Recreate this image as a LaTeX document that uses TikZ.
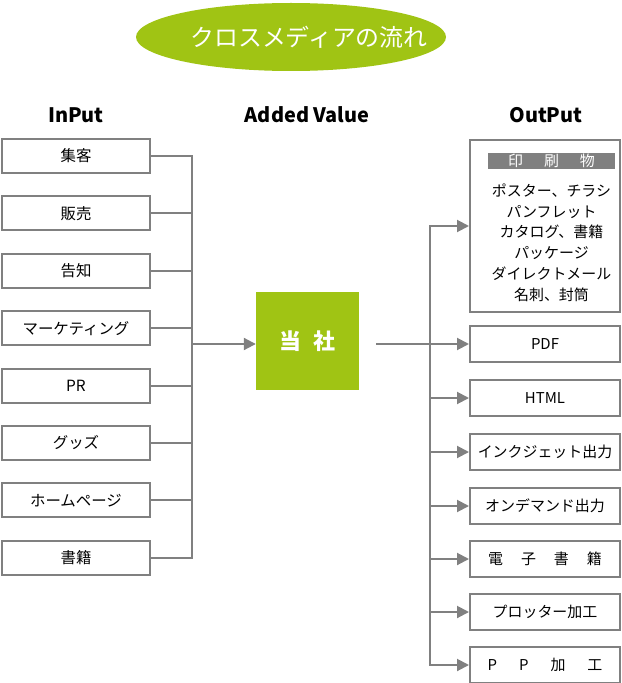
\documentclass[tikz,border=0pt]{standalone}
\usepackage{fontspec}
\setmainfont{Noto Sans CJK JP}
\usetikzlibrary{arrows.meta, shapes.geometric, positioning}
\definecolor{Leaf}  {HTML}{A0C414}
\definecolor{Frame} {HTML}{808080}

\tikzset{
  inbox/.style={draw=Frame, line width=2bp, fill=white, inner sep=0pt,
                minimum width=148bp, minimum height=34bp,
                font=\fontsize{15.5}{18}\selectfont},
  outbox/.style={inbox, minimum width=150bp, minimum height=36bp,
                 font=\fontsize{15}{18}\selectfont},
  colhead/.style={font=\fontsize{20}{24}\selectfont\bfseries},
  link/.style={draw=Frame, line width=2bp, line cap=rect},
  feed/.style={link, -{Triangle[length=12bp, width=12bp]}},
}

\begin{document}
\begin{tikzpicture}[x=1bp, y=-1bp]
  \useasboundingbox (0,0) rectangle (622,683);
  % Title
  \node[ellipse, fill=Leaf, inner sep=0pt, minimum width=310bp,
        minimum height=68bp] (title) at (291,37) {};
  \node[text=white, font=\fontsize{24}{28}\selectfont] (titletext)
        at ([xshift=18bp]title.center) {クロスメディアの流れ};
  % Column heads
  \node[colhead] (hin)  at (76,115)  {InPut};
  \node[colhead] (hval) at (307,115) {Added Value};
  \node[colhead] (hout) at (546,115) {OutPut};
  % Input side
  \foreach \txt [count=\i] in {集客, 販売, 告知, マーケティング, PR, グッズ,
                               ホームページ, 書籍}
    \node[inbox] (in\i) at (76, {156+57.4*(\i-1)}) {\txt};
  \node[fill=Leaf, minimum width=103bp, minimum height=98bp, text=white,
        font=\fontsize{22}{26}\selectfont\bfseries] (self) at (307.5,341)
        {当\hspace{12bp}社};
  \coordinate (jl) at (192,344);
  \foreach \i in {1,...,8}
    \draw[link] (in\i.east) -| (jl);
  \draw[feed] (jl) -- (jl -| self.west);
  % Output side
  \node[outbox, minimum height=172bp] (print) at (545,226) {};
  \node[fill=Frame, text=white, minimum width=127bp, minimum height=16bp,
        inner sep=0pt, font=\fontsize{15}{16}\selectfont] (phead)
        at (551.5,161) {印\hspace{21bp}刷\hspace{21bp}物};
  \node[below=14bp of phead, align=center, inner sep=0pt,
        font=\fontsize{15}{21}\selectfont] (plist)
        {ポスター、チラシ\\パンフレット\\カタログ、書籍\\パッケージ\\ダイレクトメール\\名刺、封筒};
  \node[outbox] (pdf)  at (545,344) {PDF};
  \node[outbox] (html) at (545,398) {HTML};
  \node[outbox] (ink)  at (545,452) {インクジェット出力};
  \node[outbox] (dem)  at (545,506) {オンデマンド出力};
  \node[outbox] (ebk)  at (545,559)
        {電\hspace{18bp}子\hspace{18bp}書\hspace{18bp}籍};
  \node[outbox] (plot) at (545,612) {プロッター加工};
  \node[outbox] (pp)   at (545,665)
        {P\hspace{22bp}P\hspace{22bp}加\hspace{22bp}工};
  \coordinate (src) at (377,344);
  \coordinate (rt)  at (430,0);
  \draw[feed] (src) -- (pdf.west);
  \draw[feed] (pp.west -| rt) |- (print.west);
  \foreach \n in {html, ink, dem, ebk, plot, pp}
    \draw[feed] (\n.west -| rt) -- (\n.west);
\end{tikzpicture}
\end{document}
